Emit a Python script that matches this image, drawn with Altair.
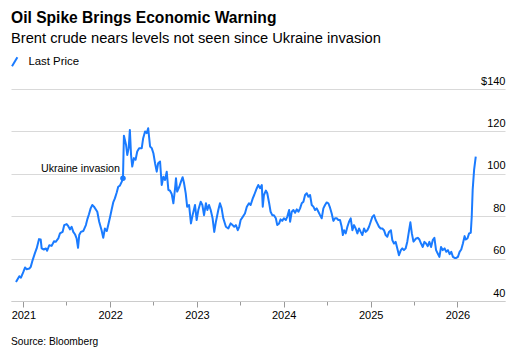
import altair as alt
import pandas as pd

TITLE = "Oil Spike Brings Economic Warning"
SUBTITLE = "Brent crude nears levels not seen since Ukraine invasion"
SOURCE = "Source: Bloomberg"
SERIES = "Last Price"
BLUE = "#1a7bff"
FONT = "Liberation Sans"

# decimal years (date of each weekly observation)
years = [
    2020.916, 2020.954, 2020.974, 2021.000, 2021.020, 2021.039, 2021.069, 2021.085, 2021.108, 2021.135,
    2021.154, 2021.181, 2021.200, 2021.212, 2021.238, 2021.262, 2021.276, 2021.300, 2021.327, 2021.354,
    2021.373, 2021.403, 2021.423, 2021.454, 2021.472, 2021.500, 2021.518, 2021.538, 2021.558, 2021.576,
    2021.596, 2021.615, 2021.630, 2021.645, 2021.665, 2021.691, 2021.722, 2021.737, 2021.757, 2021.776,
    2021.795, 2021.815, 2021.853, 2021.876, 2021.903, 2021.922, 2021.941, 2021.961, 2021.979, 2022.000,
    2022.018, 2022.037, 2022.056, 2022.076, 2022.094, 2022.114, 2022.134, 2022.148, 2022.160, 2022.183,
    2022.198, 2022.214, 2022.229, 2022.241, 2022.256, 2022.275, 2022.295, 2022.313, 2022.336, 2022.364,
    2022.382, 2022.402, 2022.422, 2022.440, 2022.460, 2022.479, 2022.498, 2022.517, 2022.537, 2022.555,
    2022.575, 2022.594, 2022.613, 2022.632, 2022.652, 2022.671, 2022.690, 2022.710, 2022.728, 2022.748,
    2022.760, 2022.774, 2022.797, 2022.817, 2022.836, 2022.851, 2022.871, 2022.889, 2022.909, 2022.932,
    2022.952, 2022.978, 2022.998, 2023.016, 2023.044, 2023.062, 2023.082, 2023.105, 2023.120, 2023.139,
    2023.159, 2023.182, 2023.200, 2023.220, 2023.247, 2023.266, 2023.286, 2023.304, 2023.335, 2023.362,
    2023.389, 2023.412, 2023.431, 2023.450, 2023.470, 2023.488, 2023.505, 2023.528, 2023.554, 2023.574,
    2023.600, 2023.620, 2023.643, 2023.661, 2023.689, 2023.707, 2023.727, 2023.747, 2023.758, 2023.773,
    2023.793, 2023.811, 2023.831, 2023.850, 2023.869, 2023.888, 2023.908, 2023.926, 2023.946, 2023.965,
    2023.984, 2024.003, 2024.023, 2024.041, 2024.061, 2024.073, 2024.092, 2024.111, 2024.130, 2024.150,
    2024.168, 2024.188, 2024.207, 2024.226, 2024.246, 2024.265, 2024.284, 2024.303, 2024.323, 2024.341,
    2024.361, 2024.380, 2024.399, 2024.418, 2024.438, 2024.456, 2024.476, 2024.495, 2024.514, 2024.533,
    2024.553, 2024.571, 2024.591, 2024.610, 2024.629, 2024.648, 2024.668, 2024.680, 2024.694, 2024.714,
    2024.733, 2024.752, 2024.772, 2024.790, 2024.809, 2024.829, 2024.848, 2024.867, 2024.887, 2024.906,
    2024.925, 2024.945, 2024.963, 2024.982, 2025.002, 2025.020, 2025.039, 2025.059, 2025.078, 2025.097,
    2025.117, 2025.136, 2025.155, 2025.175, 2025.194, 2025.213, 2025.233, 2025.251, 2025.271, 2025.290,
    2025.309, 2025.328, 2025.348, 2025.366, 2025.385, 2025.405, 2025.424, 2025.443, 2025.458, 2025.474,
    2025.493, 2025.512, 2025.524, 2025.543, 2025.562, 2025.582, 2025.601, 2025.620, 2025.639, 2025.659,
    2025.677, 2025.697, 2025.716, 2025.735, 2025.755, 2025.774, 2025.793, 2025.813, 2025.832, 2025.852,
    2025.871, 2025.891, 2025.910, 2025.929, 2025.949, 2025.968, 2025.988, 2026.007, 2026.025, 2026.045,
    2026.065, 2026.084, 2026.095, 2026.115, 2026.134, 2026.154, 2026.166, 2026.177, 2026.192, 2026.212,
]

prices = [
    49.0, 51.7, 51.0, 53.7, 55.8, 55.0, 55.3, 56.1, 59.3, 62.7,
    64.8, 69.2, 69.0, 64.8, 64.3, 64.8, 63.7, 66.3, 66.0, 68.2,
    67.9, 69.5, 71.9, 72.6, 75.8, 76.3, 75.3, 73.8, 75.0, 72.6,
    71.5, 69.5, 65.1, 71.1, 72.6, 73.0, 75.8, 78.5, 80.9, 83.7,
    85.3, 84.5, 82.1, 77.4, 73.4, 69.8, 74.2, 73.0, 75.8, 79.7,
    82.9, 86.5, 88.4, 91.3, 93.9, 94.4, 96.3, 97.9, 118.0, 113.6,
    108.9, 112.1, 120.7, 108.9, 103.4, 107.4, 106.6, 110.5, 112.1, 112.1,
    116.8, 120.0, 119.2, 121.5, 112.9, 112.1, 109.7, 105.0, 101.0, 105.0,
    105.8, 94.7, 98.6, 97.1, 101.0, 92.4, 92.0, 90.5, 86.1, 93.0,
    97.9, 91.6, 93.9, 96.3, 98.4, 95.5, 90.8, 84.5, 85.3, 76.6,
    80.5, 85.3, 78.2, 82.9, 86.8, 85.3, 80.5, 86.1, 82.9, 85.3,
    82.9, 79.0, 72.6, 77.4, 82.9, 86.1, 83.7, 79.0, 75.0, 74.2,
    76.6, 75.8, 75.0, 75.8, 73.4, 75.0, 78.2, 79.7, 81.3, 84.5,
    86.1, 85.3, 88.4, 90.0, 93.2, 94.7, 93.2, 94.7, 84.5, 90.0,
    92.1, 90.8, 86.1, 82.1, 80.5, 80.5, 79.0, 75.8, 76.6, 78.5,
    77.8, 79.0, 78.2, 79.7, 82.9, 77.4, 82.1, 82.9, 81.6, 83.2,
    82.1, 83.7, 86.1, 86.8, 90.0, 90.8, 89.2, 90.0, 85.3, 84.5,
    82.9, 83.7, 82.1, 80.5, 79.0, 83.7, 85.3, 86.5, 86.1, 84.0,
    81.3, 77.8, 79.0, 79.0, 78.2, 78.2, 75.0, 71.1, 73.4, 71.9,
    75.0, 77.4, 79.0, 73.4, 75.8, 74.2, 71.9, 74.2, 72.6, 71.1,
    74.2, 72.6, 73.4, 75.0, 77.4, 79.7, 80.5, 78.2, 76.6, 75.0,
    74.2, 74.2, 73.4, 71.1, 70.3, 72.6, 73.4, 68.7, 67.1, 67.9,
    64.8, 61.6, 64.0, 64.8, 64.0, 64.8, 68.0, 73.0, 77.1, 72.0,
    68.0, 69.0, 69.5, 69.8, 69.0, 67.1, 65.5, 67.9, 67.1, 65.9,
    67.9, 65.5, 68.7, 69.8, 64.0, 62.4, 60.8, 65.5, 64.0, 64.8,
    63.2, 64.0, 62.1, 63.2, 60.8, 60.3, 60.3, 60.8, 63.2, 64.3,
    67.1, 70.6, 69.0, 69.5, 71.9, 72.2, 79.7, 92.4, 101.8, 108.1,
]

invasion_label = ["Ukraine invasion"]
invasion_date = ["2022-02-24"]
invasion_price = [97.9]

y_ticks = [40, 60, 80, 100, 120, 140]
tick_years = [2021, 2022, 2023, 2024, 2025, 2026]

yr = pd.Series(years)
dates = (pd.Timestamp("2021-01-01") + pd.to_timedelta((yr - 2021) * 365.25, unit="D")).dt.strftime("%Y-%m-%d")
df = pd.DataFrame({"date": dates, "price": prices, "series": SERIES})

ann = pd.DataFrame({"date": invasion_date, "price": invasion_price, "label": invasion_label})

quarter_ticks = []
for y in tick_years:
    for m in (1, 4, 7, 10):
        if y == tick_years[-1] and m > 1:
            continue
        quarter_ticks.append(alt.DateTime(year=y, month=m, date=1, utc=True))

x_scale = alt.Scale(
    type="utc",
    domain=[alt.DateTime(year=2020, month=11, date=10, utc=True),
            alt.DateTime(year=2026, month=7, date=20, utc=True)],
)
y_scale = alt.Scale(domain=[40, 140], nice=False, zero=False)

x_axis = alt.Axis(
    title=None,
    values=quarter_ticks,
    labelExpr="utcmonth(datum.value) == 0 ? utcFormat(datum.value, '%Y') : ''",
    grid=False,
    domain=True,
    domainColor="#cccccc",
    domainWidth=1,
    ticks=True,
    tickColor="#999999",
    tickWidth=1,
    tickSize={"condition": {"test": "utcmonth(datum.value) == 0", "value": 6}, "value": 4},
    labelFont=FONT,
    labelFontSize=11,
    labelColor="#000000",
    labelPadding=2,
    labelFlush=False,
    labelOverlap=False,
)

y_axis = alt.Axis(
    title=None,
    orient="right",
    values=y_ticks,
    labelExpr="datum.value == 140 ? '$140' : datum.label",
    grid=True,
    gridColor="#d9d9d9",
    gridWidth=1,
    domain=False,
    ticks=False,
    labelAlign="right",
    labelBaseline="alphabetic",
    labelOffset=-5,
    labelPadding=0,
    labelFont=FONT,
    labelFontSize=11,
    labelColor="#000000",
)

line = alt.Chart(df).mark_line(strokeWidth=2, strokeJoin="round").encode(
    x=alt.X("date:T", scale=x_scale, axis=x_axis),
    y=alt.Y("price:Q", scale=y_scale, axis=y_axis),
    color=alt.Color(
        "series:N",
        scale=alt.Scale(domain=[SERIES], range=[BLUE]),
        legend=alt.Legend(
            title=None,
            orient="none",
            legendX=-2,
            legendY=-33,
            symbolType="M-0.6,1L0.6,-1",
            symbolSize=80,
            symbolStrokeWidth=2,
            labelFont=FONT,
            labelFontSize=11.4,
            labelColor="#000000",
            labelOffset=8,
            padding=0,
        ),
    ),
)

dot = alt.Chart(ann).mark_circle(size=30, color=BLUE, opacity=1).encode(
    x=alt.X("date:T", scale=x_scale),
    y=alt.Y("price:Q", scale=y_scale),
)

label = alt.Chart(ann).mark_text(
    align="right", baseline="alphabetic", dx=-3, dy=-6, font=FONT, fontSize=10.7, color="#000000"
).encode(
    x=alt.X("date:T", scale=x_scale),
    y=alt.Y("price:Q", scale=y_scale),
    text="label:N",
)

def text_layer(txt, y, size, weight="normal"):
    return alt.Chart(pd.DataFrame({"t": [txt]})).mark_text(
        align="left", baseline="alphabetic", font=FONT, fontSize=size, fontWeight=weight, color="#000000"
    ).encode(x=alt.value(0), y=alt.value(y), text="t:N")

title = text_layer(TITLE, -66.3, 15.6, "bold")
subtitle = text_layer(SUBTITLE, -45.7, 14.7)
source = text_layer(SOURCE, 256, 10.2)

chart = alt.layer(line, dot, label, title, subtitle, source).properties(
    width=494,
    height=212,
    autosize=alt.AutoSizeParams(type="none"),
    padding={"left": 11, "top": 89, "right": 24, "bottom": 55},
    background="white",
).configure_view(stroke=None)

chart.save("out.html", embed_options={"renderer": "svg", "actions": False})
